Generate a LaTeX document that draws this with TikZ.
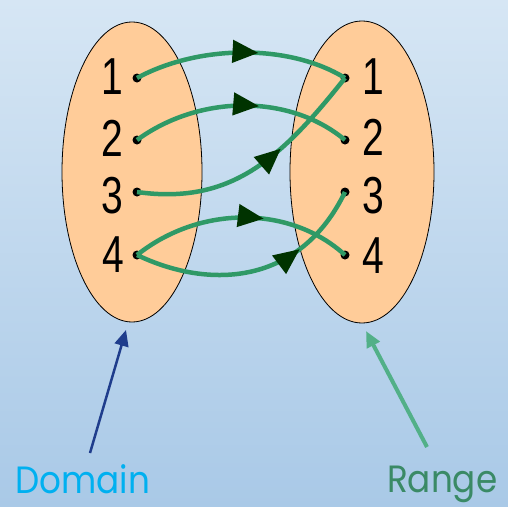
\documentclass[tikz,border=0pt]{standalone}
\usepackage{fontspec}
\newfontfamily\digitfont{Liberation Sans}
\newfontfamily\labelfont{Poppins}
\usetikzlibrary{arrows.meta,decorations.markings}
\definecolor{bgtop}{HTML}{D6E6F4}
\definecolor{bgbot}{HTML}{A9C9E7}
\definecolor{peach}{HTML}{FFCC99}
\definecolor{mapgreen}{HTML}{2F9966}
\definecolor{headgreen}{HTML}{003300}
\definecolor{domblue}{HTML}{1F3D8C}
\definecolor{domtext}{HTML}{00B0F0}
\definecolor{rangegreen}{HTML}{52B088}
\definecolor{rangetext}{HTML}{3A8A66}
\tikzset{
  setshape/.style={draw=black, line width=0.8pt, fill=peach},
  elem/.style={circle, fill=black, inner sep=0pt, minimum size=9pt},
  digit/.style={font=\digitfont\fontsize{52}{52}\selectfont, xscale=0.75, inner sep=0pt},
  maparrow/.style={draw=mapgreen, line width=4.5pt,
    postaction={decorate, decoration={markings,
      mark=at position #1 with {\arrow[headgreen]{Triangle[length=26pt,width=22pt]}}}}},
  pointer/.style={-{Triangle[length=16pt,width=14pt]}},
  caption/.style={font=\labelfont\fontsize{38}{38}\selectfont, xscale=0.9, inner sep=0pt, anchor=base west}
}
\begin{document}
\begin{tikzpicture}[x=1pt,y=-1pt]
  % background
  \shade[top color=bgtop, bottom color=bgbot] (0,0) rectangle (508,506);
  \useasboundingbox (0,0) rectangle (508,506);

  % domain and range sets
  \draw[setshape] (132,172) ellipse [x radius=70, y radius=150];
  \draw[setshape] (362,172) ellipse [x radius=72, y radius=151];

  % elements
  \foreach \i/\y in {1/78, 2/140, 3/192, 4/255} {
    \node[elem] (d\i) at (137,\y) {};
    \node[elem] (r\i) at (345,\y) {};
  }
  \node[digit] (ld1) at (112,77) {1};
  \node[digit] (ld2) at (112,138) {2};
  \node[digit] (ld3) at (112,196) {3};
  \node[digit] (ld4) at (113,255) {4};
  \node[digit] (lr1) at (373,77) {1};
  \node[digit] (lr2) at (373,137) {2};
  \node[digit] (lr3) at (373,196) {3};
  \node[digit] (lr4) at (373,256) {4};

  % mapping
  \draw[maparrow=0.58] (d1.center) .. controls (200,44) and (290,44) .. (r1.center);
  \draw[maparrow=0.58] (d2.center) .. controls (200,94) and (290,94) .. (r2.center);
  \draw[maparrow=0.62] (d3.center) .. controls (230,205) and (280,160) .. (r1.center);
  \draw[maparrow=0.6] (d4.center) .. controls (200,205) and (290,205) .. (r4.center);
  \draw[maparrow=0.7] (d4.center) .. controls (210,290) and (300,285) .. (r3.center);

  % pointers to the sets
  \coordinate (domfoot) at (90,453);
  \coordinate (domtip) at (126,330);
  \coordinate (rngfoot) at (427,447);
  \coordinate (rngtip) at (366,331);
  \draw[pointer, domblue, line width=2.5pt] (domfoot) -- (domtip);
  \draw[pointer, rangegreen, line width=4pt] (rngfoot) -- (rngtip);

  \node[caption, text=domtext] (dom) at (15,493) {Domain};
  \node[caption, text=rangetext] (rng) at (387,492) {Range};
\end{tikzpicture}
\end{document}
